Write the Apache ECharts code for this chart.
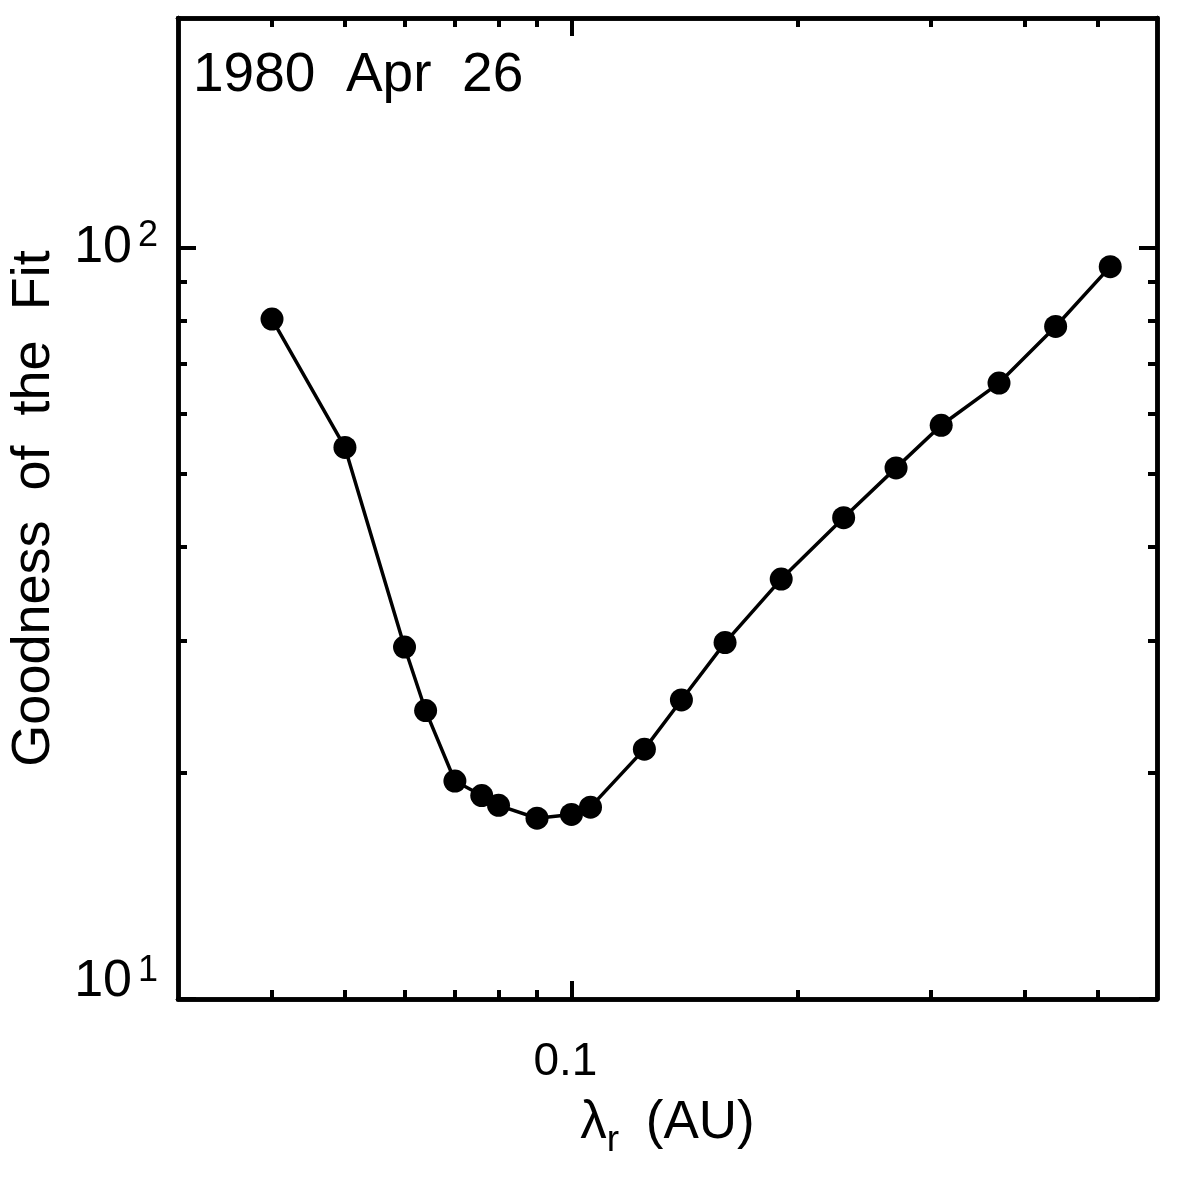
<!DOCTYPE html>
<html>
<head>
<meta charset="utf-8">
<script src="https://cdn.jsdelivr.net/npm/echarts@6/dist/echarts.min.js"></script>
<style>
  html, body { margin: 0; padding: 0; background: #fff; }
  #chart { width: 1179px; height: 1179px; }
</style>
</head>
<body>
<div id="chart"></div>
<script>
// Goodness of fit vs. radial correlation length, log-log.
// Values.
const lambdaR = [0.04, 0.05, 0.06, 0.064, 0.07, 0.076, 0.08, 0.09, 0.1, 0.106,
  0.125, 0.14, 0.16, 0.19, 0.23, 0.27, 0.31, 0.37, 0.44, 0.52]
const goodness = [80.3, 54.2, 29.4, 24.2, 19.5, 18.65, 18.1, 17.4, 17.6, 18.0,
  21.5, 25.0, 29.8, 36.2, 43.7, 50.9, 58.0, 66.0, 78.5, 94.3]

const xRange = [0.03, 0.6]
const yRange = [10, 202]
const xMajorTicks = [0.1]
const xMinorTicks = [0.04, 0.05, 0.06, 0.07, 0.08, 0.09, 0.2, 0.3, 0.4, 0.5]
const yMajorTicks = [10, 100]
const yMinorTicks = [20, 30, 40, 50, 60, 70, 80, 90]
const xTickLabels = ['0.1']
const yTickExponents = ['1', '2']

const FONT = 'Liberation Sans, Arial, sans-serif'
const lg = Math.log10

function findTick(ticks, v) {
  return ticks.findIndex(t => Math.abs(lg(t) - v) < 1e-9)
}

// plain value axes in log10 space, so the minor ticks can sit on 2..9
function xAxisDef(position, ticks, len) {
  return {
    type: 'value',
    position: position,
    min: lg(xRange[0]),
    max: lg(xRange[1]),
    axisLine: { show: true, onZero: false, lineStyle: { color: '#000', width: 4.5 } },
    axisTick: { show: true, inside: true, length: len, customValues: ticks.map(lg),
      lineStyle: { color: '#000', width: 4 } },
    axisLabel: { show: false },
    splitLine: { show: false }
  }
}

function yAxisDef(position, ticks, len) {
  return {
    type: 'value',
    position: position,
    min: lg(yRange[0]),
    max: lg(yRange[1]),
    axisLine: { show: true, onZero: false, lineStyle: { color: '#000', width: 4.5 } },
    axisTick: { show: true, inside: true, length: len, customValues: ticks.map(lg),
      lineStyle: { color: '#000', width: 4 } },
    axisLabel: { show: false },
    splitLine: { show: false }
  }
}

// label-only y axis: one decade label, 10 with a superscript exponent
function yLabelAxis(tickIdx, padding) {
  const ax = yAxisDef('left', [], 0)
  ax.axisLine = { show: false, onZero: false }
  ax.axisTick = { show: false }
  ax.axisLabel = {
    show: true,
    showMinLabel: true,
    showMaxLabel: true,
    customValues: [lg(yMajorTicks[tickIdx])],
    margin: 20,
    padding: padding,
    color: '#000',
    formatter: function (v) {
      const i = findTick(yMajorTicks, v)
      return i < 0 ? '' : '{b|10}{s|' + yTickExponents[i] + '}'
    },
    rich: {
      b: { fontSize: 52, lineHeight: 58, fontFamily: FONT, color: '#000' },
      s: { fontSize: 36, lineHeight: 36, verticalAlign: 'top', padding: [0, 0, 0, 6], fontFamily: FONT, color: '#000' }
    }
  }
  return ax
}

const xMain = xAxisDef('bottom', xMajorTicks, 18)
xMain.axisLabel = {
  show: true,
  customValues: xMajorTicks.map(lg),
  margin: 40,
  padding: [0, 12, 0, 0],
  color: '#000',
  fontFamily: FONT,
  fontSize: 46,
  formatter: function (v) {
    const i = findTick(xMajorTicks, v)
    return i >= 0 ? xTickLabels[i] : ''
  }
}
xMain.name = '{g|λ}{r|r}{t| (AU)}'
xMain.nameLocation = 'middle'
xMain.nameGap = 98
xMain.nameTextStyle = {
  color: '#000',
  rich: {
    g: { fontSize: 53, fontFamily: FONT, color: '#000', padding: [0, 0, 9, 0] },
    r: { fontSize: 37, fontFamily: FONT, color: '#000', verticalAlign: 'bottom' },
    t: { fontSize: 53, fontFamily: FONT, color: '#000', padding: [0, 0, 9, 12] }
  }
}

const yMain = yAxisDef('left', yMajorTicks, 18)
yMain.name = 'Goodness  of  the  Fit'
yMain.nameLocation = 'middle'
yMain.nameGap = 117
yMain.nameTextStyle = { color: '#000', fontFamily: FONT, fontSize: 54 }

const chart = echarts.init(document.getElementById('chart'), null, { renderer: 'canvas' })
chart.setOption({
  animation: false,
  backgroundColor: '#fff',
  title: {
    text: '1980  Apr  26',
    left: 193,
    top: 48,
    padding: 0,
    textStyle: { color: '#000', fontFamily: FONT, fontSize: 55, fontWeight: 'normal' }
  },
  grid: { left: 178, right: 22, top: 18, bottom: 180, containLabel: false, outerBoundsMode: 'none' },
  xAxis: [
    xMain,
    xAxisDef('bottom', xMinorTicks, 9),
    xAxisDef('top', xMajorTicks, 18),
    xAxisDef('top', xMinorTicks, 9)
  ],
  yAxis: [
    yMain,
    yAxisDef('left', yMinorTicks, 9),
    yAxisDef('right', yMajorTicks, 18),
    yAxisDef('right', yMinorTicks, 9),
    yLabelAxis(0, [0, 0, 34, 0]),
    yLabelAxis(1, [0, 0, 0, 0])
  ],
  series: [{
    type: 'line',
    xAxisIndex: 0,
    yAxisIndex: 0,
    data: lambdaR.map((x, i) => [lg(x), lg(goodness[i])]),
    symbol: 'circle',
    symbolSize: 23,
    itemStyle: { color: '#000' },
    lineStyle: { color: '#000', width: 3.5 },
    clip: false
  }]
})
</script>
</body>
</html>
